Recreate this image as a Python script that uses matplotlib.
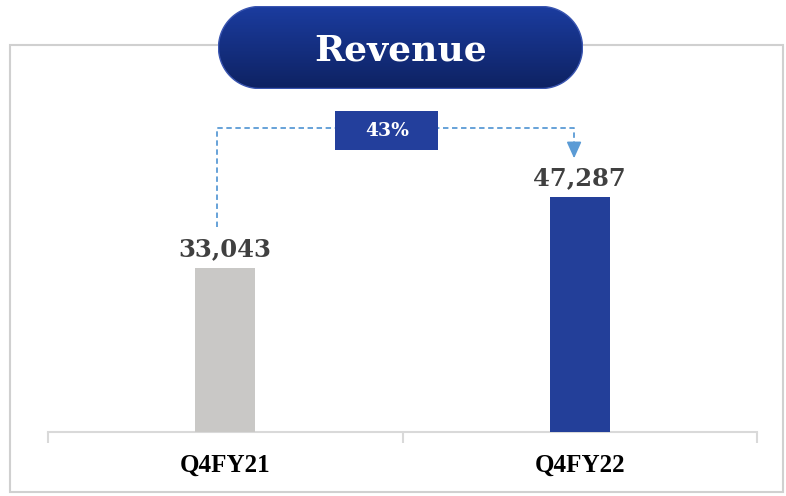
import matplotlib
matplotlib.use("Agg")
import matplotlib.pyplot as plt
import numpy as np
from matplotlib.patches import Polygon, Rectangle

# data
quarters = ["Q4FY21", "Q4FY22"]
revenue = [33043, 47287]
growth_label = "43%"
title = "Revenue"

bar_colors = ["#c9c8c6", "#233f99"]
W, H = 786, 496

fig = plt.figure(figsize=(W / 100, H / 100), dpi=100)


def fx(px):
    return px / W


def fy(py):
    return 1 - py / H


# outer frame
frame = fig.add_axes([0, 0, 1, 1])
frame.set_xlim(0, W)
frame.set_ylim(H, 0)
frame.axis("off")
frame.add_patch(Rectangle((10, 45), 773, 447, fill=False, edgecolor="#d0d0d0", linewidth=1.5))

# main axes
ax = fig.add_axes([fx(48), fy(432), fx(757) - fx(48), fy(45) - fy(432)])
ax.patch.set_alpha(0)
x = np.arange(len(quarters))
bars = ax.bar(x, revenue, width=0.17, color=bar_colors, zorder=3)
ax.set_xlim(-0.5, 1.5)
ax.set_ylim(0, 78000)
for s in ["top", "right", "left"]:
    ax.spines[s].set_visible(False)
ax.spines["bottom"].set_color("#d9d9d9")
ax.spines["bottom"].set_linewidth(1.5)
ax.set_yticks([])
ax.set_xticks([-0.5, 0.5, 1.5], minor=True)
ax.tick_params(axis="x", which="minor", length=8, color="#d9d9d9", width=1.5)
ax.set_xticks(x)
ax.set_xticklabels(quarters, fontsize=18, fontweight="bold", family="Liberation Serif")
ax.tick_params(axis="x", which="major", length=0, pad=16)

for xi, v in zip(x, revenue):
    ax.text(xi, v + 2400, f"{v:,}", ha="center", va="baseline", fontsize=17.5,
            fontweight="bold", family="DejaVu Serif", color="#404040")

# growth connector
line_y = 61300
blue = "#5b9bd5"
lx, rx = x[0] - 0.023, x[1] - 0.016
ax.plot([lx, lx, rx, rx], [41300, line_y, line_y, 57800],
        color=blue, linestyle=(0, (3, 2)), linewidth=1.3, zorder=2, clip_on=False)
ax.annotate("", xy=(rx, 54600), xytext=(rx, 58300),
            arrowprops=dict(arrowstyle="-|>,head_width=0.45,head_length=1.0",
                            color=blue, linewidth=1.2), annotation_clip=False)
ax.add_patch(Rectangle((0.456 - 0.145, 60700 - 3930), 0.29, 7860,
                       facecolor="#233f9c", edgecolor="none", zorder=4))
ax.text(0.456, 60700, growth_label, ha="center", va="center", fontsize=13.5,
        fontweight="bold", family="DejaVu Serif", color="white", zorder=5)

# title pill with gradient
pill = fig.add_axes([fx(218), fy(89), fx(583) - fx(218), fy(6) - fy(89)])
pw, ph = 365, 83
pill.set_xlim(0, pw)
pill.set_ylim(0, ph)
pill.axis("off")
grad = np.linspace(0, 1, 100).reshape(-1, 1)
cmap = matplotlib.colors.LinearSegmentedColormap.from_list("g", ["#0e2262", "#1b3c9f"])
img = pill.imshow(grad, extent=(0, pw, 0, ph), aspect="auto", cmap=cmap, origin="lower")
r = ph / 2 - 0.5
t = np.linspace(-np.pi / 2, np.pi / 2, 60)
right = np.column_stack([pw - 0.5 - r + r * np.cos(t), ph / 2 + r * np.sin(t)])
left = np.column_stack([0.5 + r - r * np.cos(t), ph / 2 - r * np.sin(t)])
shape = Polygon(np.vstack([right, left]), closed=True, facecolor="none",
                edgecolor="#3a55b0", linewidth=1)
pill.add_patch(shape)
img.set_clip_path(shape)
pill.text(pw / 2, ph / 2 - 3, title, ha="center", va="center", fontsize=26,
          fontweight="bold", family="DejaVu Serif", color="white")

fig.savefig("out.png", dpi=100)
